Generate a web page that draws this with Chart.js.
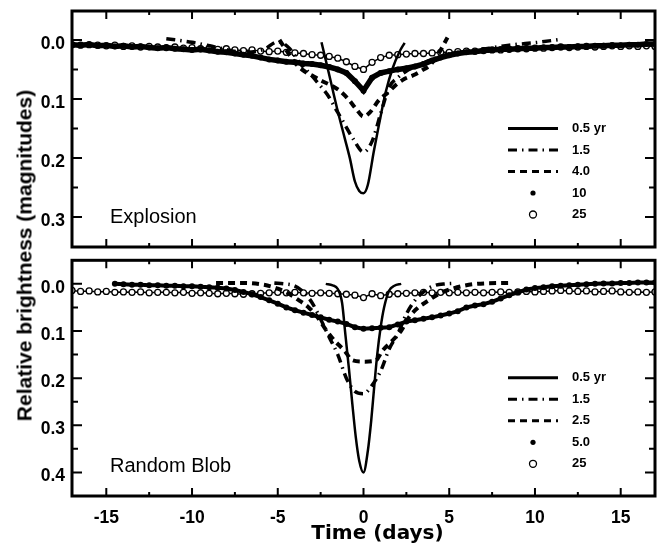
<!DOCTYPE html>
<html>
<head>
<meta charset="utf-8">
<script src="https://cdn.jsdelivr.net/npm/chart.js@4.4.1/dist/chart.umd.min.js"></script>
<style>
  body { margin: 0; background: #fff; }
  #wrap { position: relative; width: 665px; height: 546px; overflow: hidden; }
  #topPanel { position: absolute; left: 0; top: 0; }
  #bottomPanel { position: absolute; left: 0; top: 255px; }
  #ytitle {
    position: absolute; left: -177.5px; top: 245px; width: 400px; height: 21px;
    line-height: 21px; text-align: center; color: #000;
    font: bold 21px "Liberation Sans", Arial, sans-serif;
    transform: rotate(-90deg); transform-origin: center;
  }
</style>
</head>
<body>
<div id="wrap">
  <canvas id="topPanel" width="665" height="255"></canvas>
  <canvas id="bottomPanel" width="665" height="291"></canvas>
  <div id="ytitle">Relative brightness (magnitudes)</div>
</div>
<script>
// ---- tick values ----
const dayTicks = [-15, -10, -5, 0, 5, 10, 15];
const dayMinorTicks = [-12.5, -7.5, -2.5, 2.5, 7.5, 12.5];
const topMagTicks = [0, 0.1, 0.2, 0.3];
const topMagMinor = [0.05, 0.15, 0.25];
const bottomMagTicks = [0, 0.1, 0.2, 0.3, 0.4];
const bottomMagMinor = [0.05, 0.15, 0.25, 0.35];

// ---- legends ----
const topLegend = ['0.5 yr', '1.5', '4.0', '10', '25'];
const bottomLegend = ['0.5 yr', '1.5', '2.5', '5.0', '25'];

// days for the densely sampled (marker) curves
const bandDays = [-17, -16.5, -16, -15.5, -15, -14.5, -14, -13.5, -13, -12.5, -12, -11.5, -11, -10.5,
  -10, -9.5, -9, -8.5, -8, -7.5, -7, -6.5, -6, -5.5, -5, -4.5, -4, -3.5, -3, -2.5, -2, -1.5, -1, -0.5,
  0, 0.5, 1, 1.5, 2, 2.5, 3, 3.5, 4, 4.5, 5, 5.5, 6, 6.5, 7, 7.5, 8, 8.5, 9, 9.5, 10, 10.5, 11, 11.5,
  12, 12.5, 13, 13.5, 14, 14.5, 15, 15.5, 16, 16.5, 17];

/* --------------------------
   Explosion panel
---------------------------- */
const expSolidDays = [-2.45, -2.0, -1.5, -1.1, -0.8, -0.5, -0.25, 0, 0.25, 0.6, 0.9, 1.3, 1.7, 2.1, 2.4];
const expSolid = [0.004, 0.059, 0.121, 0.166, 0.200, 0.240, 0.256, 0.260, 0.246, 0.189, 0.144, 0.088, 0.048, 0.020, 0.005];

const expDashDotDays = [-11.5, -10, -8.5, -7, -5.8, -5.0, -4.3, -3.7, -3.1, -2.6, -2.1, -1.6, -1.1, -0.6, 0,
  0.5, 1.0, 1.5, 2.0, 2.6, 3.3, 4.0, 5.0, 6.5, 8.5, 10.2, 11.5];
const expDashDot = [-0.002, 0.004, 0.013, 0.021, 0.016, 0.003, 0.015, 0.040, 0.058, 0.075, 0.093, 0.118, 0.143, 0.168, 0.190,
  0.172, 0.125, 0.080, 0.064, 0.051, 0.042, 0.033, 0.024, 0.018, 0.009, 0.004, -0.001];

const expDashedDays = [-4.9, -4.4, -3.9, -3.4, -2.9, -2.4, -1.9, -1.4, -0.9, -0.4, 0, 0.4, 0.9, 1.4, 1.9, 2.4, 2.9, 3.4, 3.9, 4.4, 4.9];
const expDashed = [0.000, 0.022, 0.042, 0.054, 0.062, 0.070, 0.077, 0.086, 0.100, 0.118, 0.130, 0.122, 0.102, 0.090, 0.076, 0.066, 0.060, 0.052, 0.042, 0.022, -0.004];

const expDots = [0.008, 0.009, 0.008, 0.010, 0.009, 0.011, 0.010, 0.012, 0.011, 0.013, 0.014, 0.013, 0.015, 0.016,
  0.017, 0.016, 0.018, 0.020, 0.021, 0.023, 0.025, 0.027, 0.030, 0.033, 0.035, 0.037, 0.038, 0.040, 0.041, 0.043, 0.046, 0.050, 0.056, 0.070,
  0.086, 0.064, 0.056, 0.053, 0.050, 0.048, 0.045, 0.041, 0.035, 0.030, 0.026, 0.023, 0.021, 0.020, 0.018, 0.017, 0.016, 0.016, 0.015, 0.014, 0.014, 0.013, 0.013, 0.012,
  0.012, 0.011, 0.011, 0.010, 0.010, 0.009, 0.009, 0.008, 0.008, 0.007, 0.007];

const expCircles = [0.008, 0.009, 0.008, 0.009, 0.010, 0.009, 0.011, 0.010, 0.012, 0.011, 0.012, 0.013, 0.012, 0.014,
  0.013, 0.015, 0.014, 0.016, 0.015, 0.017, 0.018, 0.017, 0.019, 0.020, 0.019, 0.021, 0.022, 0.023, 0.025, 0.026, 0.028, 0.031, 0.037, 0.045,
  0.050, 0.038, 0.030, 0.026, 0.025, 0.024, 0.023, 0.023, 0.022, 0.021, 0.021, 0.020, 0.019, 0.019, 0.018, 0.017, 0.017, 0.016, 0.015, 0.015, 0.014, 0.014, 0.013, 0.012,
  0.013, 0.012, 0.011, 0.012, 0.011, 0.010, 0.011, 0.010, 0.011, 0.010, 0.011];

/* --------------------------
   Random Blob panel
---------------------------- */
const blobSolidDays = [-2.2, -1.8, -1.5, -1.25, -1.05, -0.85, -0.65, -0.45, -0.25, 0, 0.25, 0.45, 0.62, 0.8, 1.0, 1.2, 1.5, 1.8, 2.2];
const blobSolid = [0.000, 0.003, 0.011, 0.040, 0.110, 0.180, 0.255, 0.325, 0.375, 0.400, 0.355, 0.290, 0.220, 0.150, 0.092, 0.050, 0.014, 0.004, 0.000];

const blobDashDotDays = [-5.2, -4.6, -4.1, -3.6, -3.0, -2.5, -2.0, -1.5, -1.0, -0.5, 0, 0.5, 1.0, 1.5, 2.0, 2.5, 3.0, 3.6, 4.2, 4.8, 5.3];
const blobDashDot = [-0.002, 0.000, 0.003, 0.014, 0.040, 0.075, 0.113, 0.150, 0.200, 0.228, 0.233, 0.215, 0.185, 0.138, 0.106, 0.064, 0.035, 0.014, 0.003, 0.000, -0.001];

const blobDashedDays = [-8.6, -7.0, -5.8, -5.0, -4.4, -3.8, -3.2, -2.7, -2.2, -1.7, -1.1, -0.65, 0, 0.7, 1.1, 1.7, 2.2, 2.65, 3.2, 3.8, 4.4, 5.2, 6.6, 8.7];
const blobDashed = [-0.002, -0.002, 0.002, 0.010, 0.020, 0.034, 0.050, 0.070, 0.097, 0.120, 0.142, 0.162, 0.165, 0.163, 0.142, 0.120, 0.099, 0.071, 0.050, 0.035, 0.021, 0.010, 0.000, -0.002];

// starts at day -14.5 (bandDays index 5)
const blobDots = [0.000, 0.001, 0.002, 0.002, 0.003, 0.003, 0.004, 0.004, 0.005, 0.005, 0.006, 0.007, 0.008, 0.010,
  0.013, 0.017, 0.022, 0.028, 0.035, 0.042, 0.050, 0.056, 0.061, 0.066, 0.071, 0.076, 0.080, 0.085, 0.092,
  0.095, 0.094, 0.093, 0.092, 0.086, 0.080, 0.077, 0.074, 0.071, 0.067, 0.063, 0.058, 0.050, 0.046, 0.043, 0.038, 0.031, 0.024, 0.018, 0.012,
  0.009, 0.007, 0.005, 0.004, 0.003, 0.002, 0.001, 0.000, -0.001, -0.001, -0.002, -0.002, -0.003, -0.003, -0.003];

const blobCircles = [0.014, 0.016, 0.015, 0.017, 0.016, 0.018, 0.017, 0.018, 0.017, 0.019, 0.018, 0.018, 0.019, 0.018,
  0.020, 0.019, 0.020, 0.021, 0.020, 0.021, 0.022, 0.021, 0.020, 0.019, 0.018, 0.019, 0.018, 0.019, 0.020, 0.019, 0.020, 0.021, 0.022, 0.024,
  0.029, 0.021, 0.025, 0.022, 0.021, 0.020, 0.019, 0.018, 0.019, 0.018, 0.019, 0.018, 0.019, 0.018, 0.019, 0.018, 0.017, 0.018, 0.017, 0.016,
  0.017, 0.016, 0.015, 0.014, 0.015, 0.016, 0.015, 0.017, 0.016, 0.015, 0.017, 0.018, 0.017, 0.018, 0.017];

function pts(days, vals) {
    return vals.map((v, i) => ({ x: days[i], y: v }));
}

function makeDatasets(labels, solid, dashDot, dashed, dots, circles, bandWidth) {
    return [
        { label: labels[0], data: solid, borderColor: '#000', borderWidth: 2.5, pointRadius: 0,
          cubicInterpolationMode: 'monotone', legendKind: 'line' },
        { label: labels[1], data: dashDot, borderColor: '#000', borderWidth: 3.5, borderDash: [9, 5, 1.5, 5],
          pointRadius: 0, cubicInterpolationMode: 'monotone', legendKind: 'line' },
        { label: labels[2], data: dashed, borderColor: '#000', borderWidth: 4, borderDash: [7, 5],
          pointRadius: 0, cubicInterpolationMode: 'monotone', legendKind: 'line' },
        { label: labels[3], data: dots, borderColor: '#000', borderWidth: bandWidth, pointRadius: 3,
          pointBackgroundColor: '#000', pointBorderWidth: 0, legendKind: 'dot' },
        { label: labels[4], data: circles, borderColor: '#000', borderWidth: 1.5, pointRadius: 3,
          pointBackgroundColor: '#fff', pointBorderColor: '#000', pointBorderWidth: 1.3, legendKind: 'circle' }
    ];
}

// frame, inward ticks, panel name, legend and the time-axis title
const panelDecor = {
    id: 'panelDecor',
    afterDraw(chart, args, opts) {
        const ctx = chart.ctx;
        const { left, right, top, bottom } = chart.chartArea;
        const xs = chart.scales.x, ys = chart.scales.y;
        ctx.save();
        ctx.strokeStyle = '#000';
        ctx.fillStyle = '#000';
        ctx.setLineDash([]);

        ctx.lineWidth = 2;
        ctx.beginPath();
        const xTick = (v, len) => {
            const p = xs.getPixelForValue(v);
            ctx.moveTo(p, bottom); ctx.lineTo(p, bottom - len);
            ctx.moveTo(p, top); ctx.lineTo(p, top + len);
        };
        const yTick = (v, len) => {
            const p = ys.getPixelForValue(v);
            ctx.moveTo(left, p); ctx.lineTo(left + len, p);
            ctx.moveTo(right, p); ctx.lineTo(right - len, p);
        };
        dayTicks.forEach(v => xTick(v, 8));
        dayMinorTicks.forEach(v => xTick(v, 4));
        opts.major.forEach(v => yTick(v, 10));
        opts.minor.forEach(v => yTick(v, 6));
        ctx.stroke();

        ctx.lineWidth = 3;
        ctx.strokeRect(left, top, right - left, bottom - top);

        // panel name
        ctx.font = '20px "Liberation Sans", Arial, sans-serif';
        ctx.textBaseline = 'alphabetic';
        ctx.textAlign = 'left';
        ctx.fillText(opts.name, left + 38, top + 211.5);

        // legend
        const x1 = right - 147, x2 = right - 97, tx = right - 83;
        ctx.font = 'bold 13px "Liberation Sans", Arial, sans-serif';
        ctx.textBaseline = 'middle';
        chart.data.datasets.forEach((ds, i) => {
            const y = top + 117.5 + i * 21.5;
            if (ds.legendKind === 'dot') {
                ctx.beginPath();
                ctx.arc((x1 + x2) / 2, y, 2.6, 0, Math.PI * 2);
                ctx.fill();
            } else if (ds.legendKind === 'circle') {
                ctx.beginPath();
                ctx.lineWidth = 1.3;
                ctx.arc((x1 + x2) / 2, y, 3.5, 0, Math.PI * 2);
                ctx.stroke();
            } else {
                ctx.beginPath();
                ctx.lineWidth = 3;
                ctx.setLineDash(ds.borderDash || []);
                ctx.moveTo(x1, y); ctx.lineTo(x2, y);
                ctx.stroke();
                ctx.setLineDash([]);
            }
            ctx.fillText(ds.label, tx, y);
        });

        if (opts.xTitle) {
            ctx.font = 'bold 20px "DejaVu Sans", sans-serif';
            ctx.textAlign = 'center';
            ctx.textBaseline = 'alphabetic';
            ctx.fillText(opts.xTitle, (left + right) / 2 + 14, bottom + 43);
        }
        ctx.restore();
    }
};

const tickFont = { family: '"Liberation Sans", Arial, sans-serif', weight: 'bold', size: 17.5 };

function buildPanel(canvasId, datasets, yMin, yMax, yTicks, yMinor, name, isBottom) {
    const ctx = document.getElementById(canvasId).getContext('2d');
    return new Chart(ctx, {
        type: 'line',
        data: { datasets: datasets },
        options: {
            responsive: false,
            animation: false,
            events: [],
            layout: { padding: { top: isBottom ? 5 : 11, right: 10, bottom: isBottom ? 0 : 8, left: 0 } },
            scales: {
                x: {
                    type: 'linear', min: -17, max: 17,
                    afterBuildTicks: s => { s.ticks = dayTicks.map(v => ({ value: v })); },
                    afterFit: s => {
                        s.height = isBottom ? 50 : 0;
                        s.paddingLeft = 0; s.paddingRight = 0; s.paddingTop = 0; s.paddingBottom = 0;
                    },
                    grid: { display: false, drawTicks: false },
                    border: { display: false },
                    ticks: { display: isBottom, font: tickFont, color: '#000', padding: 11.5, maxRotation: 0,
                             callback: v => String(v) }
                },
                y: {
                    type: 'linear', reverse: true, min: yMin, max: yMax,
                    afterBuildTicks: s => { s.ticks = yTicks.map(v => ({ value: v })); },
                    afterFit: s => {
                        s.width = 72;
                        s.paddingLeft = 0; s.paddingRight = 0; s.paddingTop = 0; s.paddingBottom = 0;
                    },
                    grid: { display: false, drawTicks: false },
                    border: { display: false },
                    ticks: { font: tickFont, color: '#000', padding: 7, labelOffset: 4,
                             callback: v => Number(v).toFixed(1) }
                }
            },
            plugins: {
                legend: { display: false },
                tooltip: { enabled: false },
                panelDecor: { major: yTicks, minor: yMinor, name: name, xTitle: isBottom ? 'Time (days)' : '' }
            }
        },
        plugins: [panelDecor]
    });
}

buildPanel('topPanel',
    makeDatasets(topLegend, pts(expSolidDays, expSolid), pts(expDashDotDays, expDashDot),
        pts(expDashedDays, expDashed), pts(bandDays, expDots), pts(bandDays, expCircles), 5.5),
    -0.049, 0.351, topMagTicks, topMagMinor, 'Explosion', false);

buildPanel('bottomPanel',
    makeDatasets(bottomLegend, pts(blobSolidDays, blobSolid), pts(blobDashDotDays, blobDashDot),
        pts(blobDashedDays, blobDashed), pts(bandDays.slice(5), blobDots), pts(bandDays, blobCircles), 4),
    -0.05, 0.45, bottomMagTicks, bottomMagMinor, 'Random Blob', true);
</script>
</body>
</html>
